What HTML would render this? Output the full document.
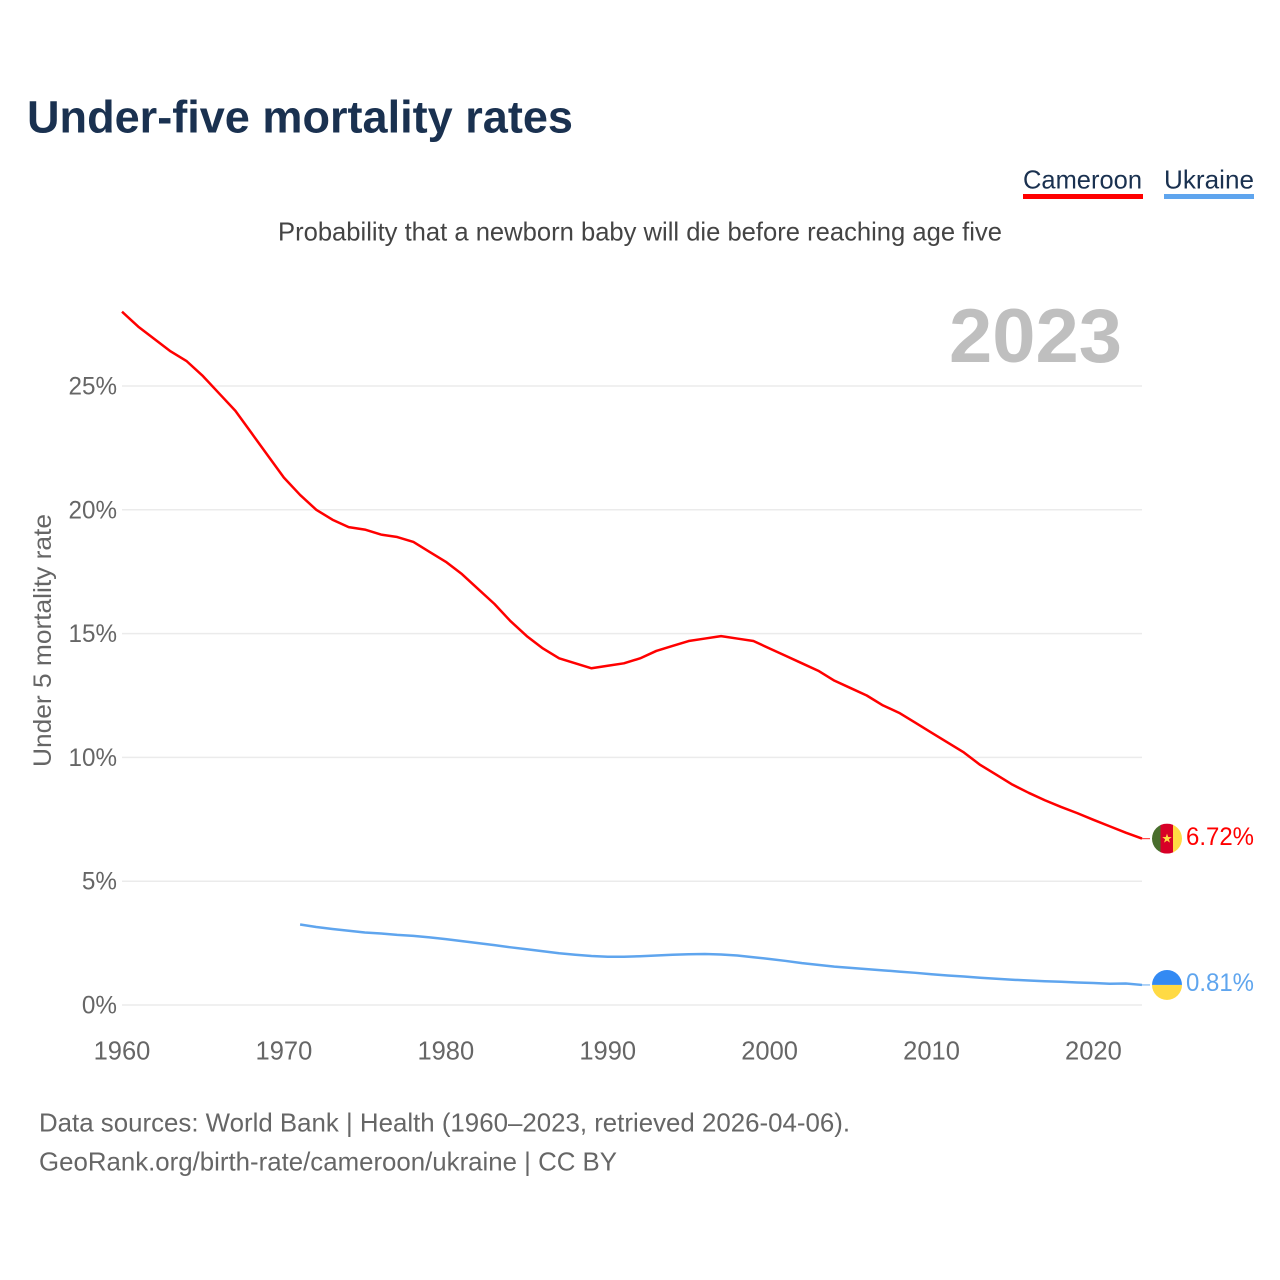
<!DOCTYPE html>
<html lang="en">
<head>
<meta charset="utf-8">
<title>Under-five mortality rates</title>
<style>
html,body{margin:0;padding:0;background:#fff;width:1280px;height:1280px;overflow:hidden}
svg{display:block}
text{font-family:"Liberation Sans",sans-serif}
</style>
</head>
<body>
<svg id="chart" xmlns="http://www.w3.org/2000/svg" width="1280" height="1280" viewBox="0 0 1280 1280">
  <defs>
    <clipPath id="clip-cm"><circle id="clip-cm-c" r="15"/></clipPath>
    <clipPath id="clip-ua"><circle id="clip-ua-c" r="15"/></clipPath>
  </defs>
  <text x="27" y="132.5" font-size="45" font-weight="700" fill="#1a3150" textLength="546" lengthAdjust="spacingAndGlyphs">Under-five mortality rates</text>
  <g>
    <text x="1023" y="188.5" font-size="26" fill="#1a3150" textLength="119" lengthAdjust="spacingAndGlyphs">Cameroon</text>
    <rect x="1023" y="194" width="120" height="5" fill="#ff0000"/>
  </g>
  <g>
    <text x="1164" y="188.5" font-size="26" fill="#1a3150" textLength="90" lengthAdjust="spacingAndGlyphs">Ukraine</text>
    <rect x="1164" y="194" width="90" height="5" fill="#5fa5ee"/>
  </g>
  <text x="278" y="240.5" font-size="26" fill="#444" textLength="724" lengthAdjust="spacingAndGlyphs">Probability that a newborn baby will die before reaching age five</text>
  <text x="949" y="362" font-size="76" font-weight="700" fill="#bfbfbf" textLength="173" lengthAdjust="spacingAndGlyphs">2023</text>
  <text transform="translate(51,767) rotate(-90)" x="0" y="0" font-size="25" fill="#666" textLength="253" lengthAdjust="spacingAndGlyphs">Under 5 mortality rate</text>
  <g id="grid"></g>
  <g id="yticks"></g>
  <g id="xticks"></g>
  <g id="series"></g>
  <g id="ends"></g>
  <text x="39" y="1131.5" font-size="26" fill="#666" textLength="811" lengthAdjust="spacingAndGlyphs">Data sources: World Bank | Health (1960–2023, retrieved 2026-04-06).</text>
  <text x="39" y="1170.5" font-size="26" fill="#666" textLength="578" lengthAdjust="spacingAndGlyphs">GeoRank.org/birth-rate/cameroon/ukraine | CC BY</text>
</svg>
<script>
const cameroonStartYear = 1960;
const ukraineStartYear = 1971;
const cameroonValues = [28.0,27.4,26.9,26.4,26.0,25.4,24.7,24.0,23.1,22.2,21.3,20.6,20.0,19.6,19.3,19.2,19.0,18.9,18.7,18.3,17.9,17.4,16.8,16.2,15.5,14.9,14.4,14.0,13.8,13.6,13.7,13.8,14.0,14.3,14.5,14.7,14.8,14.9,14.8,14.7,14.4,14.1,13.8,13.5,13.1,12.8,12.5,12.1,11.8,11.4,11.0,10.6,10.2,9.7,9.3,8.9,8.57,8.27,8.0,7.75,7.48,7.22,6.96,6.72];
const ukraineValues = [3.25,3.15,3.07,3.0,2.93,2.89,2.83,2.79,2.73,2.66,2.58,2.5,2.42,2.33,2.25,2.17,2.09,2.03,1.98,1.95,1.95,1.97,2.0,2.03,2.05,2.06,2.04,2.0,1.93,1.86,1.78,1.69,1.62,1.55,1.5,1.45,1.4,1.35,1.3,1.24,1.19,1.15,1.1,1.06,1.02,0.99,0.96,0.94,0.91,0.89,0.86,0.87,0.81];
const yTickValues = [0,5,10,15,20,25];
const xTickYears = [1960,1970,1980,1990,2000,2010,2020];

const NS = 'http://www.w3.org/2000/svg';
const xScale = year => 122 + (year - 1960) * (1142 - 122) / (2023 - 1960);
const yScale = pct => 1005 - pct * 24.76;

function make(tag, attrs, parent, text) {
  const el = document.createElementNS(NS, tag);
  for (const k in attrs) el.setAttribute(k, attrs[k]);
  if (text !== undefined) el.textContent = text;
  parent.appendChild(el);
  return el;
}

const gridG = document.getElementById('grid');
const yG = document.getElementById('yticks');
const xG = document.getElementById('xticks');
const seriesG = document.getElementById('series');
const endsG = document.getElementById('ends');

yTickValues.forEach(v => {
  const line = make('line', {x1:122, x2:1142, y1:yScale(v), y2:yScale(v), stroke:'#ebebeb', 'stroke-width':1.5}, gridG);
  
  
  const label = make('text', {x:117, y:yScale(v)+8.5, 'text-anchor':'end', 'font-size':25, fill:'#666'}, yG, v + '%');
  
  
  const w = label.getComputedTextLength();
  label.setAttribute('textLength', (w * 0.97).toFixed(1));
  label.setAttribute('lengthAdjust', 'spacingAndGlyphs');
});

xTickYears.forEach(y => {
  const label = make('text', {x:xScale(y), y:1059.5, 'text-anchor':'middle', 'font-size':25.5, fill:'#666'}, xG, String(y));
  
  
});

function linePath(values, startYear) {
  return values.map((v, i) => (i ? 'L' : 'M') + xScale(startYear + i).toFixed(2) + ' ' + yScale(v).toFixed(2)).join(' ');
}

const cameroonLine = make('path', {d:linePath(cameroonValues, cameroonStartYear), fill:'none', stroke:'#ff0000', 'stroke-width':2.5, 'stroke-linejoin':'round'}, seriesG);


const ukraineLine = make('path', {d:linePath(ukraineValues, ukraineStartYear), fill:'none', stroke:'#5fa5ee', 'stroke-width':2.5, 'stroke-linejoin':'round'}, seriesG);



const cmLast = cameroonValues[cameroonValues.length - 1];
const uaLast = ukraineValues[ukraineValues.length - 1];
const cy1 = yScale(cmLast);
const cy2 = yScale(uaLast);

const conn1 = make('line', {x1:1142, x2:1150, y1:cy1, y2:cy1, stroke:'#ff0000', 'stroke-width':1.2, opacity:.7}, endsG);


const conn2 = make('line', {x1:1142, x2:1150, y1:cy2, y2:cy2, stroke:'#5fa5ee', 'stroke-width':1.2, opacity:.8}, endsG);



const clipCm = document.getElementById('clip-cm-c');
clipCm.setAttribute('cx', 1167);
clipCm.setAttribute('cy', cy1);
const clipUa = document.getElementById('clip-ua-c');
clipUa.setAttribute('cx', 1167);
clipUa.setAttribute('cy', cy2);

const flagCm = make('g', {'clip-path':'url(#clip-cm)'}, endsG);


make('rect', {x:1152, y:cy1-15, width:9, height:30, fill:'#496e2d'}, flagCm);
make('rect', {x:1160.5, y:cy1-15, width:13, height:30, fill:'#d80027'}, flagCm);
make('rect', {x:1173, y:cy1-15, width:9, height:30, fill:'#ffda44'}, flagCm);
const sx = 1167, sr = 5, si = 2;
let starPts = [];
for (let i = 0; i < 10; i++) {
  const a = -Math.PI / 2 + i * Math.PI / 5;
  const r = i % 2 ? si : sr;
  starPts.push((sx + r * Math.cos(a)).toFixed(2) + ',' + (cy1 + r * Math.sin(a)).toFixed(2));
}
make('polygon', {points:starPts.join(' '), fill:'#ffda44'}, flagCm);

const flagUa = make('g', {'clip-path':'url(#clip-ua)'}, endsG);


make('rect', {x:1152, y:cy2-15, width:30, height:15, fill:'#338af3'}, flagUa);
make('rect', {x:1152, y:cy2, width:30, height:15, fill:'#ffda44'}, flagUa);

const labelCm = make('text', {x:1186, y:cy1+6.5, 'font-size':25, fill:'#ff0000', textLength:68, lengthAdjust:'spacingAndGlyphs'}, endsG, cmLast.toFixed(2) + '%');


const labelUa = make('text', {x:1186, y:cy2+6, 'font-size':25, fill:'#5fa5ee', textLength:68, lengthAdjust:'spacingAndGlyphs'}, endsG, uaLast.toFixed(2) + '%');


</script>
</body>
</html>
